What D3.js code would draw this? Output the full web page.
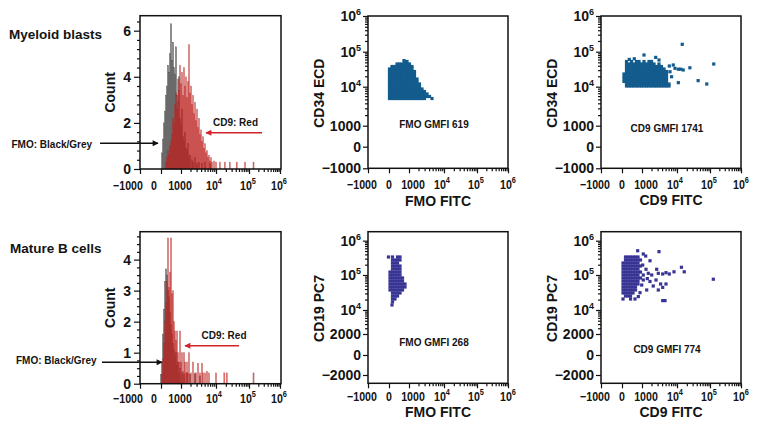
<!DOCTYPE html>
<html>
<head>
<meta charset="utf-8">
<script src="https://cdn.jsdelivr.net/npm/d3@7"></script>
<style>
    body { margin: 0; background: #fff; }
    svg text { font-family: "Liberation Sans", Arial, Helvetica, sans-serif; font-weight: bold; fill: #141414; }
</style>
</head>
<body>
<svg id="chart" width="759" height="426"></svg>
<script>
// ---- axis ticks ----
let fitcTicks = [-1000, 0, 1000, 10000, 100000, 1000000]
let fitcMinor = [2000, 3000, 4000, 5000, 6000, 7000, 8000, 9000, 20000, 30000, 40000, 50000, 60000, 70000, 80000, 90000, 200000, 300000, 400000, 500000, 600000, 700000, 800000, 900000]
let ecdTicks = [-1000, 0, 1000, 10000, 100000, 1000000]
let ecdMinor = [2000, 3000, 4000, 5000, 6000, 7000, 8000, 9000, 20000, 30000, 40000, 50000, 60000, 70000, 80000, 90000, 200000, 300000, 400000, 500000, 600000, 700000, 800000, 900000]
let pc7Ticks = [-2000, 0, 2000, 10000, 100000, 1000000]
let pc7Minor = [3000, 4000, 5000, 6000, 7000, 8000, 9000, 20000, 30000, 40000, 50000, 60000, 70000, 80000, 90000, 200000, 300000, 400000, 500000, 600000, 700000, 800000, 900000]
let countTicksMyeloid = [0, 2, 4, 6]
let countMinorMyeloid = [0.4, 0.8, 1.2, 1.6, 2.4, 2.8, 3.2, 3.6, 4.4, 4.8, 5.2, 5.6, 6.4]
let countTicksB = [0, 1, 2, 3, 4]
let countMinorB = [0.25, 0.5, 0.75, 1.25, 1.5, 1.75, 2.25, 2.5, 2.75, 3.25, 3.5, 3.75, 4.25, 4.5, 4.75]

// ---- histograms: [FITC value, count] ----
let myeloidFmoHist = [[25,0.7],[51,1.3],[79,2.0],[110,2.5],[142,3.2],[176,3.6],[213,4.5],[253,4.2],[295,5.0],[340,6.3],[388,4.7],[439,5.5],[494,4.4],[553,4.1],[615,5.3],[683,3.2],[754,2.9],[831,4.0],[912,2.2],[1000,1.9],[1081,2.6],[1167,1.4],[1258,1.2],[1355,1.6],[1458,0.9],[1566,0.8],[1681,1.1],[1803,0.5],[1932,0.6],[2215,0.4],[2370,0.3],[2705,0.5],[3080,0.25],[3505,0.3],[4238,0.25],[5110,0.3],[6954,0.25]]
let myeloidCd9Hist = [[142,0.3],[176,0.5],[213,0.8],[253,0.6],[295,1.0],[340,1.2],[388,1.5],[439,2.2],[494,2.0],[553,2.8],[615,3.3],[683,2.6],[754,3.9],[831,3.4],[912,4.5],[1000,3.7],[1081,4.2],[1167,3.2],[1258,4.4],[1355,3.6],[1458,4.0],[1566,3.1],[1681,3.8],[1803,5.4],[1932,3.3],[2070,3.6],[2215,2.8],[2370,3.2],[2532,2.4],[2705,2.9],[2887,2.1],[3080,2.6],[3286,1.8],[3505,2.2],[3735,1.5],[3980,1.7],[4238,1.2],[4520,1.4],[4805,0.9],[5110,1.1],[5440,0.7],[5790,0.8],[6154,0.5],[6540,0.6],[6954,0.35],[7390,0.5],[7855,0.3],[8868,0.35],[10000,0.3],[13200,0.3],[18700,0.3],[26500,0.3],[43000,0.3],[76000,0.3],[140000,0.3]]
let bcellFmoHist = [[0,0.3],[25,0.7],[51,1.6],[79,2.4],[110,3.3],[142,3.7],[176,3.5],[213,3.0],[253,2.8],[295,2.3],[340,1.9],[388,1.6],[439,1.3],[494,1.1],[553,0.9],[615,1.0],[683,0.6],[754,0.7],[831,0.35],[912,0.5],[1081,0.35],[1258,0.3],[1566,0.35],[1932,0.3],[2705,0.3],[3735,0.25]]
let bcellCd9Hist = [[25,0.3],[51,0.8],[79,1.3],[110,2.0],[142,2.6],[176,3.3],[213,4.7],[253,3.1],[295,3.6],[340,4.7],[388,2.9],[439,3.0],[494,2.0],[553,1.7],[615,1.4],[683,1.7],[754,1.0],[831,0.7],[912,1.7],[1000,0.7],[1081,1.0],[1167,0.4],[1258,1.0],[1355,0.7],[1458,0.35],[1566,0.7],[1681,0.35],[1803,1.0],[2070,0.35],[2370,0.7],[2705,0.35],[2887,0.35],[3286,0.66],[3735,0.35],[4238,0.66],[4520,0.35],[5110,0.35],[5790,0.4],[6540,0.35],[10000,0.35],[18000,0.35],[21500,0.35],[140000,0.35]]

// ---- dot plots: rows of [Y value, [FITC values]] ----
let ecdFmoRows = [
    [56000, [615]],
    [52800, [649, 831]],
    [44800, [253, 364, 494, 649, 831, 1040]],
    [38000, [79, 159, 253, 364, 494, 649, 831, 1040, 1258]],
    [32300, [12, 79, 159, 253, 364, 494, 649, 831, 1040, 1258]],
    [27400, [12, 79, 159, 253, 364, 494, 649, 831, 1040, 1258, 1510]],
    [23300, [12, 79, 159, 253, 364, 494, 649, 831, 1040, 1258, 1510]],
    [19700, [12, 79, 159, 253, 364, 494, 649, 831, 1040, 1258, 1510]],
    [16700, [12, 79, 159, 253, 364, 494, 649, 831, 1040, 1258, 1510, 1803]],
    [14200, [12, 79, 159, 253, 364, 494, 649, 831, 1040, 1258, 1510, 1803]],
    [11980, [12, 79, 159, 253, 364, 494, 649, 831, 1040, 1258, 1510, 1803, 2140]],
    [10200, [12, 79, 159, 253, 364, 494, 649, 831, 1040, 1258, 1510, 1803, 2140]],
    [8830, [12, 79, 159, 253, 364, 494, 649, 831, 1040, 1258, 1510, 1803, 2140, 2532]],
    [7710, [12, 79, 159, 253, 364, 494, 649, 831, 1040, 1258, 1510, 1803, 2140, 2532, 2980]],
    [6730, [12, 79, 159, 253, 364, 494, 649, 831, 1040, 1258, 1510, 1803, 2140, 2532, 2980, 3505]],
    [5860, [12, 79, 159, 253, 364, 494, 649, 831, 1040, 1258, 1510, 1803, 2140, 2532, 2980, 3505, 4110]],
    [5240, [12, 79, 159, 253, 364, 494, 649, 831, 1040, 1258, 1510, 1803, 2140, 2532, 2980, 4805]]
]
let ecdCd9Rows = [
    [161000, [14500]],
    [80700, [1167]],
    [69000, [2650]],
    [63000, [455]],
    [60500, [225]],
    [58200, [3286]],
    [52800, [126, 317, 584, 754, 1167, 1681, 2000]],
    [44800, [126, 213, 317, 439, 584, 754, 955, 1167, 1405, 1681, 2000, 2370, 3286, 132000]],
    [42000, [7990]],
    [39300, [6270]],
    [38000, [126, 213, 317, 439, 584, 754, 955, 1167, 1405, 1681, 2000, 2370, 2795, 3286, 3850]],
    [35000, [24800]],
    [33800, [8868]],
    [32300, [126, 213, 317, 439, 584, 754, 955, 1167, 1405, 1681, 2000, 2370, 2795, 3286, 3850, 4520]],
    [31900, [11000, 13000]],
    [30300, [15500]],
    [27400, [126, 213, 317, 439, 584, 754, 955, 1167, 1405, 1681, 2000, 2370, 2795, 3286, 3850, 4520, 5280]],
    [27000, [6540]],
    [23300, [51, 126, 213, 317, 439, 584, 754, 955, 1167, 1405, 1681, 2000, 2370, 2795, 3286, 3850, 4520, 5280]],
    [19700, [51, 126, 213, 317, 439, 584, 754, 955, 1167, 1405, 1681, 2000, 2370, 2795, 3286, 3850, 4520, 5280]],
    [19400, [7200]],
    [16700, [51, 126, 213, 317, 439, 584, 754, 955, 1167, 1405, 1681, 2000, 2370, 2795, 3286, 3850, 4520, 5280]],
    [15000, [44000]],
    [14200, [51, 126, 213, 317, 439, 584, 754, 955, 1167, 1405, 1681, 2000, 2370, 2795, 3286, 3850, 4520, 5280]],
    [13100, [11000]],
    [11980, [126, 213, 317, 439, 584, 754, 955, 1167, 1405, 1681, 2000, 2370, 2795, 3286, 3850, 4520, 5280, 6154, 80000]],
    [10480, [126, 213, 317, 439, 584, 754, 955, 1167, 1405, 1681, 2000, 2370, 2795, 3286, 3850, 4520, 5280, 6154]]
]
let pc7FmoRows = [
    [335000, [-12, 94, 274, 388]],
    [274000, [94, 176, 274, 388]],
    [224000, [94, 176, 274]],
    [183000, [94, 176, 274, 388]],
    [150000, [94, 176, 274, 388]],
    [122000, [25, 94, 176, 274, 388]],
    [100000, [25, 94, 176, 274, 388]],
    [82300, [25, 94, 176, 274, 388, 523]],
    [67700, [25, 94, 176, 274, 388, 523]],
    [55600, [25, 94, 176, 274, 388, 523, 683]],
    [45700, [25, 94, 176, 274, 388, 523, 683]],
    [37600, [25, 94, 176, 274, 388, 523]],
    [30900, [94, 176, 274, 388]],
    [25300, [94, 176, 274]],
    [20800, [94, 176]],
    [17100, [94]],
    [14000, [79]]
]
let pc7Cd9Rows = [
    [510000, [660]],
    [480000, [3286]],
    [410000, [1105]],
    [358000, [1325]],
    [335000, [94, 176, 274, 388, 523, 683]],
    [274000, [94, 176, 274, 388, 523, 683, 870]],
    [260000, [1803]],
    [224000, [25, 94, 176, 274, 388, 523, 683]],
    [195000, [1056]],
    [183000, [25, 94, 176, 274, 388, 523, 683, 870]],
    [168000, [13700]],
    [150000, [25, 94, 176, 274, 388, 523, 683]],
    [147000, [1355, 2830]],
    [124000, [8350, 16700]],
    [122000, [25, 94, 176, 274, 388, 523, 683, 870]],
    [117000, [5110]],
    [112000, [1600, 3140]],
    [107000, [4160, 6260]],
    [100000, [25, 94, 176, 274, 388, 523, 683, 1105, 2030]],
    [82300, [25, 94, 176, 274, 388, 523, 683, 870]],
    [79000, [1490]],
    [76000, [128000]],
    [72200, [1105, 2705]],
    [67700, [25, 94, 176, 274, 388, 523, 683]],
    [65500, [1803]],
    [55600, [25, 94, 176, 274, 388, 523, 683, 3650, 5110]],
    [52000, [975]],
    [48800, [2250]],
    [45700, [25, 94, 176, 274, 388, 523]],
    [44500, [4160]],
    [37600, [25, 94, 176, 274, 388, 523, 1425, 3140]],
    [31500, [831]],
    [30900, [25, 94, 176, 274, 388]],
    [25300, [94, 176, 274]],
    [24400, [705]],
    [20800, [25, 274, 494]],
    [18700, [4160, 4805]]
]

let svg = d3.select('#chart')

let defs = svg.append('defs')
let addHead = (id, color) => {
    defs.append('marker').attr('id', id)
        .attr('viewBox', '0 0 10 10').attr('refX', 9).attr('refY', 5)
        .attr('markerUnits', 'userSpaceOnUse').attr('markerWidth', 7).attr('markerHeight', 6)
        .attr('orient', 'auto')
        .append('path').attr('d', 'M0,0 L10,5 L0,10 z').attr('fill', color)
}
addHead('headBlack', '#111')
addHead('headRed', '#d3232a')

let fmt = (text, v) => {
    if (v >= 10000) {
        text.text('10')
        text.append('tspan').attr('dy', -6).attr('font-size', '9px').text(Math.round(Math.log10(v)))
    } else {
        text.text(v < 0 ? '\u2212' + Math.abs(v) : v)
    }
}

let fitcScale = (left) => d3.scaleSymlog().constant(360)
    .domain(fitcTicks)
    .range([left, left + 21, left + 41, left + 76, left + 109, left + 140])

let drawFrame = (p) => {
    svg.append('rect')
        .attr('x', p.left).attr('y', p.top)
        .attr('width', p.width).attr('height', p.bottom - p.top)
        .attr('fill', 'none').attr('stroke', '#111').attr('stroke-width', 1.5)
}

// label nudges keep the crowded low-end labels apart, as in the source figure
let drawXAxis = (p, x, title, nudge) => {
    let g = svg.append('g').attr('transform', `translate(0,${p.bottom})`)
    g.append('g').call(d3.axisBottom(x).tickValues(fitcMinor).tickSize(3).tickSizeOuter(0).tickFormat(''))
    g.append('g').call(d3.axisBottom(x).tickValues(fitcTicks).tickSize(5).tickSizeOuter(0).tickFormat(''))
    g.selectAll('.domain').remove()
    g.selectAll('line').attr('stroke', '#111').attr('stroke-width', 1.2)
    fitcTicks.forEach((v, i) => {
        let t = g.append('text')
            .attr('transform', `translate(${x(v) + nudge[i]},${p.labelDy}) scale(0.82,1)`)
            .attr('text-anchor', 'middle').attr('font-size', '13px')
        fmt(t, v)
    })
    if (title) {
        svg.append('text').attr('x', p.left + 70).attr('y', p.titleY)
            .attr('text-anchor', 'middle').attr('font-size', '14px').text(title)
    }
}

let drawYAxis = (p, y, ticks, minor, title, pad) => {
    let g = svg.append('g').attr('transform', `translate(${p.left},0)`)
    g.append('g').call(d3.axisLeft(y).tickValues(minor).tickSize(3).tickSizeOuter(0).tickFormat(''))
    g.append('g').call(d3.axisLeft(y).tickValues(ticks).tickSize(pad.tick).tickSizeOuter(0).tickFormat(''))
    g.selectAll('.domain').remove()
    g.selectAll('line').attr('stroke', '#111').attr('stroke-width', 1.2)
    ticks.forEach(v => {
        let t = g.append('text').attr('x', -pad.tick - pad.gap).attr('y', y(v)).attr('dy', '0.36em')
            .attr('text-anchor', 'end').attr('font-size', '14px')
        fmt(t, v)
    })
    svg.append('text')
        .attr('transform', `translate(${pad.titleX},${(p.top + p.bottom) / 2 + pad.titleDy}) rotate(-90)`)
        .attr('dy', '0.36em').attr('text-anchor', 'middle').attr('font-size', '14px').text(title)
}

let drawHist = (p, fmo, cd9, countMax, ticks, minor) => {
    let x = fitcScale(p.left)
    let y = d3.scaleLinear().domain([0, countMax]).range([p.bottom, p.top])
    let bars = (data, fill, fillOpacity, stroke, strokeOpacity) => {
        svg.append('g').selectAll('rect').data(data).join('rect')
            .attr('x', d => x(d[0]) - 0.6).attr('width', 1.2)
            .attr('y', d => y(d[1])).attr('height', d => p.bottom - y(d[1]))
            .attr('fill', fill).attr('fill-opacity', fillOpacity)
            .attr('stroke', stroke).attr('stroke-width', 0.5).attr('stroke-opacity', strokeOpacity)
    }
    bars(fmo, '#a2a2a2', 0.9, '#000', 0.6)
    bars(cd9, '#f2302c', 0.72, '#4a0606', 0.35)
    drawXAxis(p, x, null, [-12, -7, -1, -2, -1, -1])
    drawYAxis(p, y, ticks, minor, 'Count', { tick: 6, gap: 3, titleX: 110, titleDy: 0 })
    drawFrame(p)
}

let drawDots = (p, rows, y, color, yTicks, yMinor, xTitle, yTitle, note, noteY) => {
    let x = fitcScale(p.left)
    let points = rows.flatMap(r => r[1].map(v => [v, r[0]]))
    svg.append('g').selectAll('rect').data(points).join('rect')
        .attr('x', d => x(d[0]) - 1.6).attr('y', d => y(d[1]) - 1.6)
        .attr('width', 3.2).attr('height', 3.2).attr('fill', color)
    svg.append('text').attr('x', p.left + 66).attr('y', noteY)
        .attr('text-anchor', 'middle').attr('font-size', '10px').text(note)
    drawXAxis(p, x, xTitle, [-6, 0, 4, -2, -1, 0])
    drawYAxis(p, y, yTicks, yMinor, yTitle, { tick: 5, gap: 2, titleX: p.left - 49, titleDy: 1 })
    drawFrame(p)
}

// ---- panels ----
let h1 = { left: 140, top: 15.7, bottom: 169, width: 141, labelDy: 20.5 }
let h2 = { left: 140, top: 231.7, bottom: 383.7, width: 141, labelDy: 19 }
let s1 = { left: 368, top: 16, bottom: 168.3, width: 140, labelDy: 20.5, titleY: 206 }
let s2 = { left: 601, top: 16, bottom: 168.3, width: 140, labelDy: 20.5, titleY: 205 }
let s3 = { left: 368, top: 231.7, bottom: 383.3, width: 140, labelDy: 18, titleY: 417 }
let s4 = { left: 601, top: 231.7, bottom: 383.3, width: 140, labelDy: 18, titleY: 416.5 }

let ecdScale = (p) => d3.scaleSymlog().constant(360)
    .domain(ecdTicks)
    .range([p.bottom, p.bottom - 21.6, p.bottom - 42.6, p.bottom - 81.6, p.bottom - 116.6, p.top])
let pc7Scale = (p) => d3.scaleSymlog().constant(360)
    .domain([-3000].concat(pc7Ticks, [1830000]))
    .range([p.bottom, p.bottom - 8.3, p.bottom - 28.3, p.bottom - 49.3, p.bottom - 73.3, p.bottom - 108.3, p.top + 9, p.top])

drawHist(h1, myeloidFmoHist, myeloidCd9Hist, 6.65, countTicksMyeloid, countMinorMyeloid)
drawHist(h2, bcellFmoHist, bcellCd9Hist, 4.9, countTicksB, countMinorB)

drawDots(s1, ecdFmoRows, ecdScale(s1), '#145c8e', ecdTicks, ecdMinor, 'FMO FITC', 'CD34 ECD', 'FMO GMFI 619', 127.5)
drawDots(s2, ecdCd9Rows, ecdScale(s2), '#145c8e', ecdTicks, ecdMinor, 'CD9 FITC', 'CD34 ECD', 'CD9 GMFI 1741', 131.7)
drawDots(s3, pc7FmoRows, pc7Scale(s3), '#383594', pc7Ticks, pc7Minor, 'FMO FITC', 'CD19 PC7', 'FMO GMFI 268', 346)
drawDots(s4, pc7Cd9Rows, pc7Scale(s4), '#383594', pc7Ticks, pc7Minor, 'CD9 FITC', 'CD19 PC7', 'CD9 GMFI 774', 352.7)

// ---- row labels and arrows ----
let label = (x, y, size, text) => svg.append('text').attr('x', x).attr('y', y).attr('font-size', size).text(text)
let arrow = (x1, x2, y, color, head) => {
    svg.append('line').attr('x1', x1).attr('x2', x2).attr('y1', y).attr('y2', y)
        .attr('stroke', color).attr('stroke-width', 1.4).attr('marker-end', `url(#${head})`)
}

label(9, 39.3, '13.5px', 'Myeloid blasts')
label(10, 253.3, '13.5px', 'Mature B cells')

label(11.5, 148, '10px', 'FMO: Black/Grey')
arrow(100, 158, 143.3, '#111', 'headBlack')
label(213, 125.6, '10px', 'CD9: Red')
arrow(262, 206, 132.7, '#d3232a', 'headRed')

label(16, 364.3, '10px', 'FMO: Black/Grey')
arrow(102, 162, 362.3, '#111', 'headBlack')
label(201.5, 338.6, '10px', 'CD9: Red')
arrow(239, 185, 345.7, '#d3232a', 'headRed')
</script>
</body>
</html>
